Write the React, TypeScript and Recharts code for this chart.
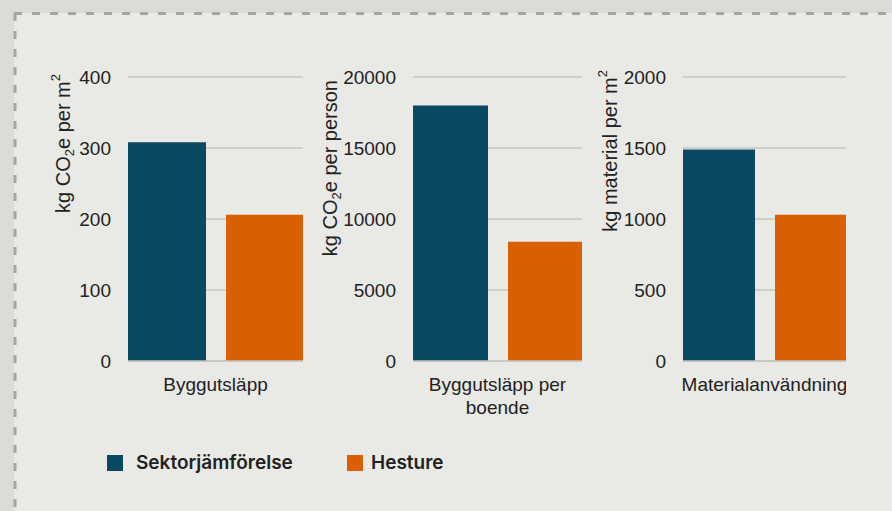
import React from 'react'
import { BarChart, Bar, XAxis, YAxis, CartesianGrid, Text } from 'recharts'

// values
const categories = ['Byggutsläpp', 'Byggutsläpp per boende', 'Materialanvändning']
const sektorValues = [308, 18000, 1490]
const hestureValues = [206, 8400, 1030]
const yMax = [400, 20000, 2000]
const yTicks = [
  [0, 100, 200, 300, 400],
  [0, 5000, 10000, 15000, 20000],
  [0, 500, 1000, 1500, 2000],
]
// axis titles, as [text, 'sub' | 'sup' | ''] pieces
const yTitles: [string, string][][] = [
  [['kg CO', ''], ['2', 'sub'], ['e per m', ''], ['2', 'sup']],
  [['kg CO', ''], ['2', 'sub'], ['e per person', '']],
  [['kg material per m', ''], ['2', 'sup']],
]
const seriesNames = ['Sektorjämförelse', 'Hesture']

const NAVY = '#0b4962'
const ORANGE = '#d95f00'
const GRID = '#c6c6c1'
const INK = '#222'
const FONT = '"Liberation Sans", Arial, sans-serif'
const FS = 19

// layout of the three panels
const panels = [
  { left: 40, width: 263, axisW: 88, titleX: 23, titleY: 14 },
  { left: 300, width: 282, axisW: 113, titleX: 30, titleY: 20 },
  { left: 590, width: 256, axisW: 93, titleX: 20, titleY: 10 },
]

function AxisTitle({ parts, px, py }: { parts: [string, string][]; px: number; py: number }) {
  let shift = 0
  return (
    <text
      x={px}
      y={py}
      transform={`rotate(-90, ${px}, ${py})`}
      textAnchor="end"
      dominantBaseline="central"
      fontFamily={FONT}
      fontSize={20}
      fill={INK}
    >
      {parts.map(([t, kind], i) => {
        const target = kind === 'sub' ? 6 : kind === 'sup' ? -8 : 0
        const dy = target - shift
        shift = target
        return (
          <tspan key={i} dy={dy} fontSize={kind ? 13 : 20}>
            {t}
          </tspan>
        )
      })}
    </text>
  )
}

function CategoryTick(props: any) {
  const { x, y, payload } = props
  return (
    <Text
      x={x}
      y={y + 9}
      width={150}
      textAnchor="middle"
      verticalAnchor="start"
      lineHeight="1.2em"
      fontFamily={FONT}
      fontSize={FS}
      fill={INK}
    >
      {payload.value}
    </Text>
  )
}

function Panel({ i }: { i: number }) {
  const p = panels[i]
  const data = [{ name: categories[i], sektor: sektorValues[i], hesture: hestureValues[i] }]
  return (
    <div style={{ position: 'absolute', left: p.left, top: 60 }}>
      <BarChart
        width={p.width}
        height={370}
        data={data}
        margin={{ top: 17, right: 0, bottom: 19, left: 0 }}
        barCategoryGap={0}
        barGap={20}
      >
        <CartesianGrid vertical={false} stroke={GRID} strokeWidth={1.3} />
        <XAxis
          dataKey="name"
          height={50}
          axisLine={{ stroke: GRID, strokeWidth: 1.3 }}
          tickLine={false}
          tick={<CategoryTick />}
          interval={0}
        />
        <YAxis
          width={p.axisW}
          domain={[0, yMax[i]]}
          ticks={yTicks[i]}
          axisLine={false}
          tickLine={false}
          tickMargin={11}
          tick={{ fontFamily: FONT, fontSize: FS, fill: INK }}
          label={<AxisTitle parts={yTitles[i]} px={p.titleX} py={p.titleY} />}
        />
        <Bar dataKey="sektor" name={seriesNames[0]} fill={NAVY} isAnimationActive={false} />
        <Bar dataKey="hesture" name={seriesNames[1]} fill={ORANGE} isAnimationActive={false} />
      </BarChart>
    </div>
  )
}

function LegendItem({ color, label, left, gap }: { color: string; label: string; left: number; gap: number }) {
  return (
    <div style={{ position: 'absolute', left, top: 451, display: 'flex', alignItems: 'center' }}>
      <div style={{ width: 16, height: 16, background: color, marginRight: gap }} />
      <span style={{ fontFamily: 'Inter, "Noto Sans", sans-serif', fontWeight: 600, fontSize: 19, color: INK }}>
        {label}
      </span>
    </div>
  )
}

export default function App() {
  return (
    <div style={{ position: 'absolute', left: 0, top: 0, width: 892, height: 511, background: '#dcdcd6', overflow: 'hidden' }}>
      <div style={{ position: 'absolute', left: 14, top: 13, width: 900, height: 520, background: '#e9e9e5' }} />
      <svg width={892} height={511} style={{ position: 'absolute', left: 0, top: 0 }}>
        <line x1={14} y1={13.5} x2={892} y2={13.5} stroke="#a3a6a2" strokeWidth={3} strokeDasharray="8 10" />
        <line x1={15} y1={13} x2={15} y2={511} stroke="#a3a6a2" strokeWidth={3} strokeDasharray="8 10" />
      </svg>
      {categories.map((_, i) => (
        <Panel key={i} i={i} />
      ))}
      <LegendItem color={NAVY} label={seriesNames[0]} left={107} gap={13} />
      <LegendItem color={ORANGE} label={seriesNames[1]} left={347} gap={8} />
    </div>
  )
}
